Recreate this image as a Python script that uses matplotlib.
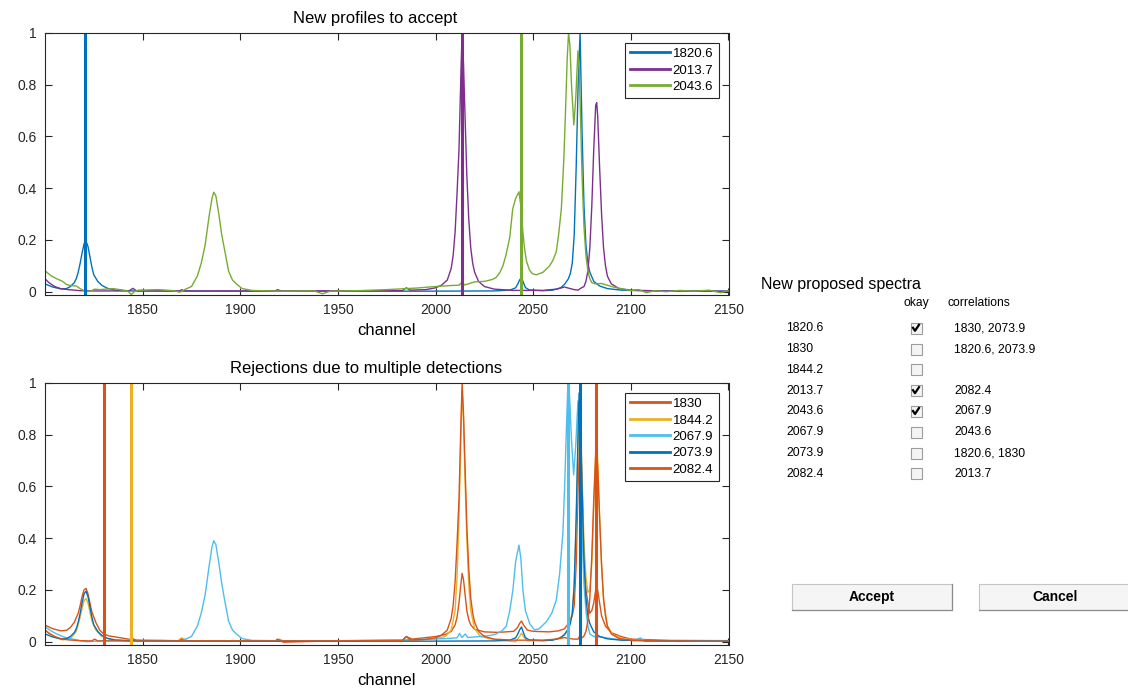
import numpy as np
import matplotlib.pyplot as plt
from matplotlib.patches import Rectangle
from matplotlib.lines import Line2D

plt.rcParams['font.family'] = ['Liberation Sans', 'DejaVu Sans']

# spectra profiles, (channel, intensity) pairs
p1820_6 = [(1800, 0.030), (1804, 0.018), (1808, 0.011), (1811, 0.012), (1813, 0.020),
           (1815, 0.035), (1816, 0.050), (1817, 0.075), (1818, 0.110), (1819, 0.150),
           (1820, 0.185), (1821, 0.195), (1822, 0.175), (1823, 0.135), (1824, 0.095),
           (1825, 0.065), (1827, 0.040), (1829, 0.025), (1832, 0.013), (1836, 0.006),
           (1845, 0.003), (1900, 0.002), (1990, 0.002), (2030, 0.003), (2038, 0.006),
           (2041, 0.015), (2042, 0.028), (2043, 0.045), (2044, 0.055), (2045, 0.035),
           (2046, 0.016), (2048, 0.007), (2055, 0.004), (2060, 0.006), (2064, 0.015),
           (2066, 0.028), (2068, 0.050), (2069, 0.070), (2070, 0.110), (2071, 0.220),
           (2072, 0.480), (2073, 0.800), (2074, 1.000), (2075, 0.620), (2076, 0.330),
           (2077, 0.180), (2078, 0.110), (2079, 0.075), (2081, 0.040), (2084, 0.022),
           (2088, 0.012), (2095, 0.006), (2110, 0.003), (2150, 0.002)]

p2013_7 = [(1800, 0.050), (1802, 0.035), (1805, 0.020), (1808, 0.012), (1812, 0.008),
           (1818, 0.004), (1825, 0.003), (1843, 0.003), (1845, 0.013), (1847, 0.003),
           (1869, 0.003), (1870, 0.008), (1871, 0.003), (1918, 0.003), (1919, 0.008),
           (1921, 0.003), (1983, 0.004), (1985, 0.015), (1987, 0.006), (1995, 0.008),
           (2000, 0.015), (2003, 0.025), (2006, 0.045), (2008, 0.090), (2009, 0.140),
           (2010, 0.230), (2011, 0.380), (2012, 0.550), (2013, 0.850), (2013.6, 1.000),
           (2014.3, 0.880), (2015, 0.700), (2016, 0.450), (2017, 0.280), (2018, 0.170),
           (2019, 0.110), (2020, 0.075), (2022, 0.040), (2025, 0.020), (2030, 0.010),
           (2040, 0.005), (2055, 0.005), (2062, 0.010), (2066, 0.018), (2068, 0.014),
           (2071, 0.008), (2073, 0.006), (2074, 0.012), (2076, 0.020), (2077, 0.040),
           (2078, 0.080), (2079, 0.170), (2080, 0.330), (2081, 0.550), (2082, 0.720),
           (2082.5, 0.730), (2083, 0.680), (2084, 0.480), (2085, 0.300), (2086, 0.170),
           (2087, 0.100), (2088, 0.060), (2090, 0.030), (2094, 0.012), (2100, 0.006),
           (2115, 0.003), (2150, 0.002)]

p2043_6 = [(1800, 0.081), (1803, 0.062), (1806, 0.050), (1809, 0.040), (1811, 0.028),
           (1813, 0.024), (1816, 0.022), (1818, 0.012), (1819.5, 0.006), (1821, 0.000),
           (1823.5, 0.003), (1825.5, 0.010), (1828, 0.008), (1835, 0.012), (1840, 0.006),
           (1842.5, 0.002), (1844.2, -0.011), (1846, 0.002), (1848, 0.006), (1858, 0.008),
           (1866, 0.004), (1869, -0.002), (1872, 0.010), (1875, 0.020), (1878, 0.060),
           (1880, 0.110), (1882, 0.180), (1884, 0.290), (1885.5, 0.360), (1886.4, 0.384),
           (1887.5, 0.370), (1889, 0.300), (1890.5, 0.220), (1892, 0.160), (1894, 0.080),
           (1896, 0.045), (1898, 0.030), (1901, 0.012), (1906, 0.005), (1920, 0.002),
           (1938, 0.003), (1942, -0.008), (1946, 0.002), (1960, 0.004), (1975, 0.008),
           (1990, 0.014), (2000, 0.020), (2008, 0.024), (2012, 0.025), (2013.5, 0.036),
           (2015, 0.026), (2020, 0.038), (2025, 0.040), (2029, 0.047), (2031, 0.055),
           (2033, 0.075), (2034.5, 0.100), (2036, 0.140), (2038, 0.210), (2039.5, 0.320),
           (2041, 0.360), (2042.7, 0.386), (2043.7, 0.330), (2044.7, 0.230), (2045.5, 0.170),
           (2046.5, 0.120), (2048, 0.085), (2049.5, 0.070), (2051.6, 0.065), (2055, 0.075),
           (2058.4, 0.100), (2060, 0.120), (2061.8, 0.154), (2063, 0.220), (2064.4, 0.320),
           (2065.7, 0.515), (2066.6, 0.710), (2067.4, 0.900), (2068.1, 1.000), (2068.8, 0.950),
           (2069.6, 0.800), (2070.8, 0.644), (2071.8, 0.750), (2072.9, 0.930), (2073.6, 0.850),
           (2074.3, 0.650), (2075, 0.450), (2076, 0.250), (2077, 0.140), (2078, 0.080),
           (2079, 0.050), (2080, 0.035), (2082, 0.030), (2085, 0.032), (2088, 0.025),
           (2091, 0.018), (2095, 0.012), (2100, 0.004), (2104, 0.008), (2108, -0.004),
           (2112, 0.004), (2118, 0.000), (2125, 0.005), (2132, 0.002), (2140, 0.006),
           (2146, -0.004), (2150, 0.004)]

p1830 = [(1800, 0.064), (1804, 0.050), (1808, 0.042), (1811, 0.044), (1813, 0.055),
         (1815, 0.075), (1817, 0.110), (1818, 0.140), (1819, 0.175), (1820, 0.200),
         (1821, 0.206), (1822, 0.185), (1823, 0.150), (1824, 0.115), (1826, 0.075),
         (1828, 0.045), (1830, 0.030), (1833, 0.022), (1838, 0.016), (1844, 0.008),
         (1850, 0.005), (1870, 0.004), (1871, 0.010), (1873, 0.003), (1919, 0.003),
         (1920, 0.008), (1922, -0.002), (1950, 0.004), (1983, 0.006), (1985, 0.020),
         (1988, 0.010), (2000, 0.020), (2005, 0.028), (2008, 0.040), (2010, 0.065),
         (2011, 0.095), (2012, 0.150), (2013, 0.225), (2013.6, 0.264), (2014.3, 0.240),
         (2015, 0.190), (2016, 0.120), (2017, 0.085), (2018, 0.065), (2020, 0.048),
         (2025, 0.038), (2032, 0.036), (2040, 0.040), (2042, 0.055), (2043, 0.070),
         (2044, 0.080), (2045, 0.065), (2047, 0.045), (2050, 0.040), (2058, 0.038),
         (2063, 0.042), (2066, 0.050), (2068, 0.070), (2070, 0.100), (2071, 0.140),
         (2072, 0.300), (2073, 0.600), (2074, 0.850), (2075, 0.600), (2076, 0.300),
         (2077, 0.200), (2078, 0.150), (2079, 0.110), (2080, 0.120), (2081, 0.150),
         (2082, 0.200), (2082.5, 0.210), (2083, 0.200), (2084, 0.150), (2085, 0.100),
         (2087, 0.060), (2090, 0.035), (2095, 0.020), (2100, 0.010), (2120, 0.005),
         (2150, 0.004)]

p1844_2 = [(1800, 0.045), (1803, 0.030), (1806, 0.015), (1809, 0.007), (1812, 0.010),
           (1814, 0.020), (1816, 0.040), (1817, 0.065), (1818, 0.095), (1819, 0.130),
           (1820, 0.158), (1821, 0.167), (1822, 0.150), (1823, 0.115), (1824, 0.080),
           (1826, 0.045), (1829, 0.020), (1833, 0.010), (1840, 0.005), (1843, 0.004),
           (1844.2, 0.014), (1846, 0.003), (1868, 0.003), (1870, 0.015), (1872, 0.003),
           (1918, 0.003), (1920, 0.010), (1922, 0.003), (1960, 0.003), (1990, 0.006),
           (2000, 0.012), (2005, 0.020), (2008, 0.045), (2010, 0.120), (2011, 0.250),
           (2012, 0.480), (2013, 0.800), (2013.6, 0.970), (2014.3, 0.860), (2015, 0.650),
           (2016, 0.400), (2017, 0.220), (2018, 0.120), (2020, 0.050), (2023, 0.020),
           (2030, 0.008), (2038, 0.002), (2041, 0.000), (2043, 0.020), (2044, 0.033),
           (2045, 0.020), (2047, 0.003), (2055, 0.004), (2062, 0.010), (2066, 0.025),
           (2068, 0.050), (2070, 0.110), (2071, 0.220), (2072, 0.450), (2073, 0.780),
           (2074, 0.930), (2075, 0.650), (2076, 0.380), (2077, 0.250), (2078, 0.190),
           (2079, 0.200), (2080, 0.300), (2081, 0.520), (2082, 0.740), (2082.5, 0.760),
           (2083, 0.700), (2084, 0.480), (2085, 0.290), (2086, 0.160), (2088, 0.060),
           (2091, 0.025), (2097, 0.010), (2110, 0.004), (2150, 0.003)]

p2067_9 = [(1800, 0.058), (1803, 0.042), (1806, 0.030), (1809, 0.020), (1812, 0.013),
           (1815, 0.009), (1818, 0.004), (1821, 0.000), (1824, 0.001), (1830, 0.004),
           (1838, 0.005), (1845, 0.004), (1850, 0.006), (1860, 0.005), (1868, 0.003),
           (1872, 0.010), (1875, 0.020), (1878, 0.060), (1880, 0.110), (1882, 0.180),
           (1884, 0.290), (1885.5, 0.365), (1886.4, 0.390), (1887.5, 0.375), (1889, 0.305),
           (1890.5, 0.225), (1892, 0.160), (1894, 0.080), (1896, 0.045), (1898, 0.030),
           (1901, 0.012), (1906, 0.005), (1930, 0.003), (1960, 0.004), (1990, 0.008),
           (2005, 0.012), (2011, 0.015), (2012.3, 0.032), (2013.5, 0.016), (2015.2, 0.030),
           (2016.5, 0.016), (2022, 0.020), (2028, 0.024), (2031, 0.030), (2034, 0.042),
           (2036.2, 0.060), (2038, 0.120), (2039.6, 0.200), (2041, 0.310), (2042.7, 0.373),
           (2043.7, 0.320), (2044.7, 0.200), (2046, 0.120), (2048.2, 0.070), (2050.7, 0.045),
           (2053, 0.050), (2056.7, 0.077), (2059.5, 0.110), (2061.8, 0.160), (2063.5, 0.260),
           (2065.2, 0.420), (2066.1, 0.600), (2066.9, 0.800), (2067.8, 1.000), (2068.6, 0.950),
           (2069.6, 0.780), (2070.7, 0.644), (2071.8, 0.760), (2072.9, 0.930), (2073.6, 0.850),
           (2074.3, 0.650), (2075, 0.420), (2076, 0.220), (2077, 0.120), (2078, 0.060),
           (2079, 0.030), (2081, 0.020), (2085, 0.018), (2090, 0.012), (2097, 0.006),
           (2102, 0.004), (2104.8, 0.015), (2107, 0.002), (2115, 0.004), (2125, 0.001),
           (2135, 0.004), (2150, 0.003)]

p2073_9 = [(1800, 0.030), (1804, 0.018), (1808, 0.011), (1811, 0.012), (1813, 0.020),
           (1815, 0.035), (1816, 0.050), (1817, 0.075), (1818, 0.110), (1819, 0.150),
           (1820, 0.185), (1821, 0.195), (1822, 0.175), (1823, 0.135), (1824, 0.095),
           (1825, 0.065), (1827, 0.040), (1829, 0.025), (1832, 0.013), (1836, 0.006),
           (1845, 0.003), (1900, 0.002), (1990, 0.002), (2030, 0.003), (2038, 0.006),
           (2041, 0.015), (2042, 0.028), (2043, 0.045), (2044, 0.057), (2045, 0.035),
           (2046, 0.016), (2048, 0.007), (2055, 0.004), (2060, 0.006), (2064, 0.015),
           (2066, 0.028), (2068, 0.050), (2069, 0.070), (2070, 0.110), (2071, 0.220),
           (2072, 0.480), (2073, 0.820), (2073.5, 0.960), (2074.2, 0.850), (2075, 0.600),
           (2076, 0.320), (2077, 0.170), (2078, 0.100), (2079, 0.070), (2081, 0.038),
           (2084, 0.020), (2088, 0.011), (2095, 0.006), (2110, 0.003), (2150, 0.002)]

p2082_4 = [(1800, 0.045), (1802, 0.032), (1805, 0.020), (1808, 0.012), (1812, 0.007),
           (1818, 0.004), (1824, 0.003), (1825.4, 0.010), (1827, 0.003), (1843, 0.003),
           (1845, 0.012), (1847, 0.003), (1869, 0.003), (1870, 0.010), (1871, 0.003),
           (1918, 0.003), (1919, 0.010), (1921, 0.003), (1983, 0.004), (1985, 0.020),
           (1987, 0.007), (1995, 0.009), (2000, 0.015), (2003, 0.025), (2006, 0.045),
           (2008, 0.090), (2009, 0.140), (2010, 0.230), (2011, 0.380), (2012, 0.550),
           (2013, 0.850), (2013.6, 1.000), (2014.3, 0.880), (2015, 0.700), (2016, 0.450),
           (2017, 0.280), (2018, 0.170), (2019, 0.110), (2020, 0.075), (2022, 0.040),
           (2025, 0.020), (2030, 0.010), (2040, 0.006), (2055, 0.006), (2062, 0.010),
           (2066, 0.016), (2068, 0.013), (2071, 0.010), (2073, 0.010), (2074, 0.025),
           (2075, 0.015), (2076, 0.022), (2077, 0.040), (2078, 0.080), (2079, 0.170),
           (2080, 0.330), (2081, 0.550), (2082, 0.720), (2082.4, 0.733), (2083, 0.680),
           (2084, 0.480), (2085, 0.300), (2086, 0.170), (2087, 0.100), (2088, 0.060),
           (2090, 0.030), (2094, 0.012), (2100, 0.006), (2115, 0.003), (2150, 0.002)]

accepted_labels = ['1820.6', '2013.7', '2043.6']
accepted_profiles = [p1820_6, p2013_7, p2043_6]
accepted_colors = ['#0072BD', '#7E2F8E', '#77AC30']

rejected_labels = ['1830', '1844.2', '2067.9', '2073.9', '2082.4']
rejected_profiles = [p1830, p1844_2, p2067_9, p2073_9, p2082_4]
rejected_colors = ['#D95319', '#EDB120', '#4DBEEE', '#0072BD', '#D95319']

# table on the right
spectra = ['1820.6', '1830', '1844.2', '2013.7', '2043.6', '2067.9', '2073.9', '2082.4']
okay = [True, False, False, True, True, False, False, False]
correlations = ['1830, 2073.9', '1820.6, 2073.9', '', '2082.4', '2067.9', '2043.6',
                '1820.6, 1830', '2013.7']

W, H = 1128, 688
AXC = '#262626'

fig = plt.figure(figsize=(W / 100, H / 100), dpi=100)
fig.patch.set_facecolor('white')


def fx(px):
    return px / W


def fy(py):
    return 1 - py / H


def spectrum_axes(rect, title, title_x, labels, profiles, colors):
    ax = fig.add_axes(rect)
    for lab, prof, col in zip(labels, profiles, colors):
        arr = np.array(prof)
        ax.plot(arr[:, 0], arr[:, 1], color=col, lw=1.0)
    handles = []
    for lab, col in zip(labels, colors):
        h = ax.axvline(float(lab), color=col, lw=2.2)
        handles.append(h)
    ax.set_xlim(1800, 2150)
    ax.set_ylim(-0.0127, 1)
    ax.set_xticks(np.arange(1850, 2151, 50))
    ax.set_yticks([0, 0.2, 0.4, 0.6, 0.8, 1])
    ax.set_yticklabels(['0', '0.2', '0.4', '0.6', '0.8', '1'])
    ax.tick_params(direction='in', length=5, width=0.8, top=True, right=True,
                   colors=AXC, labelsize=10, pad=6)
    for s in ax.spines.values():
        s.set_color(AXC)
        s.set_linewidth(0.8)
    ax.set_title(title, fontsize=12, x=title_x, pad=7)
    ax.set_xlabel('channel', fontsize=12, labelpad=4)
    leg = ax.legend(handles, labels, loc='upper right', fontsize=9.5,
                    frameon=True, fancybox=False, framealpha=1,
                    edgecolor='#262626', borderaxespad=0.75, handlelength=3.0,
                    handletextpad=0.2, labelspacing=0.32, borderpad=0.4)
    leg.get_frame().set_linewidth(0.8)
    for ln in leg.get_lines():
        ln.set_linewidth(2.0)
    return ax


spectrum_axes([fx(45), fy(295), (728.5 - 45) / W, (295 - 32.7) / H],
              'New profiles to accept', 0.4835,
              accepted_labels, accepted_profiles, accepted_colors)
spectrum_axes([fx(45), fy(645), (728.5 - 45) / W, (645 - 382.7) / H],
              'Rejections due to multiple detections', 0.470,
              rejected_labels, rejected_profiles, rejected_colors)

# panel with the proposed spectra
fig.text(fx(761), fy(285), 'New proposed spectra', fontsize=11.5, va='center')
fig.text(fx(904), fy(303), 'okay', fontsize=8.7, va='center')
fig.text(fx(948), fy(303), 'correlations', fontsize=8.7, va='center')

row_y0, row_dy = 328.3, 20.8
for i, (name, ok, corr) in enumerate(zip(spectra, okay, correlations)):
    yc = row_y0 + i * row_dy
    fig.text(fx(786), fy(yc), name, fontsize=8.7, va='center')
    fig.text(fx(954), fy(yc), corr, fontsize=8.7, va='center')
    bx, bs = 910.5, 11
    fig.add_artist(Rectangle((fx(bx), fy(yc + bs / 2)), bs / W, bs / H,
                             transform=fig.transFigure, facecolor='#f4f4f4',
                             edgecolor='#9c9c9c', lw=0.8))
    if ok:
        fig.add_artist(Line2D([fx(bx + 2.5), fx(bx + 4.5), fx(bx + 8.5)],
                              [fy(yc - 0.5), fy(yc + 2.5), fy(yc - 3.5)],
                              transform=fig.transFigure, color='black', lw=1.6))

# buttons
for x0, x1, text in [(791.7, 952.3, 'Accept'), (979, 1131, 'Cancel')]:
    y0, y1 = 584, 610
    fig.add_artist(Rectangle((fx(x0), fy(y1)), (x1 - x0) / W, (y1 - y0) / H,
                             transform=fig.transFigure, facecolor='#f5f5f5',
                             edgecolor='#c4c4c4', lw=0.8))
    fig.add_artist(Line2D([fx(x0), fx(x1), fx(x1)], [fy(y1), fy(y1), fy(y0)],
                          transform=fig.transFigure, color='#8c8c8c', lw=0.9))
    cx = (x0 + min(x1, 1128)) / 2 if text == 'Accept' else 1055
    fig.text(fx(cx), fy(597), text, fontsize=10, fontweight='bold',
             ha='center', va='center')

fig.savefig('out.png', dpi=100)
